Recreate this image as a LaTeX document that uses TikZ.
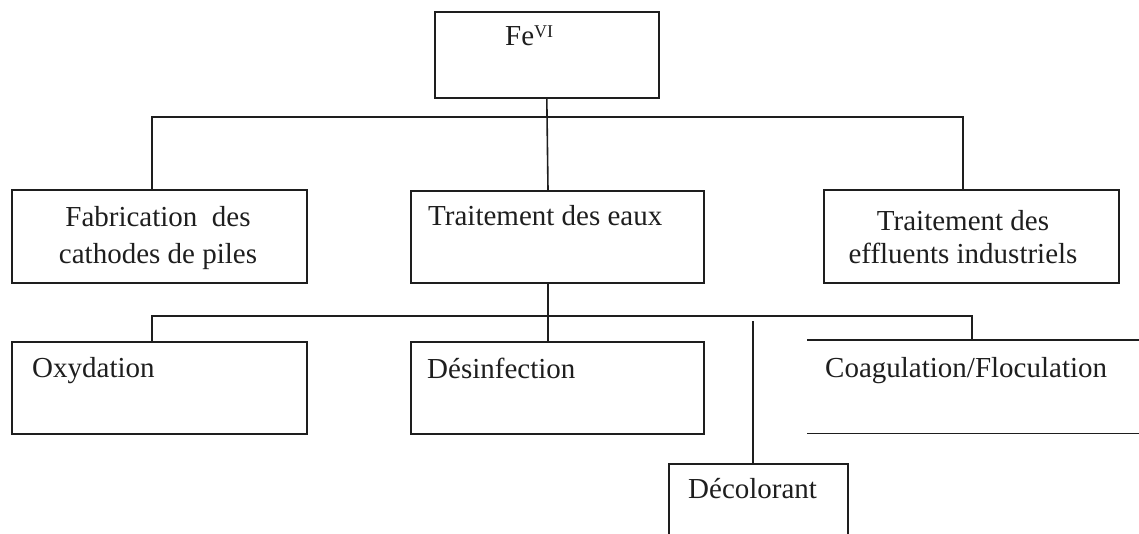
\documentclass[tikz,border=0pt]{standalone}
\usepackage{fontspec}
\setmainfont{Liberation Serif}
\usetikzlibrary{calc}
\definecolor{ink}{RGB}{30,30,30}
\begin{document}
\begin{tikzpicture}[x=1pt,y=-1pt,
  box/.style={draw=ink, line width=1.6pt, inner sep=0pt, anchor=north west},
  sz/.style 2 args={minimum width=#1pt, minimum height=#2pt},
  lbl/.style={inner sep=0pt, font=\fontsize{29}{37}\selectfont, text=ink},
  link/.style={draw=ink, line width=1.6pt},
]
\useasboundingbox (0,0) rectangle (1139,533);
\clip (0,0) rectangle (1139,533);

% boxes
\node[box, sz={224}{86}] (fe) at (434,11) {};
\node[box, sz={295}{93}] (fab) at (11,189) {};
\node[box, sz={293}{92}] (trait) at (410,190) {};
\node[box, sz={295}{93}] (eff) at (823,189) {};
\node[box, sz={295}{92}] (oxy) at (11,341) {};
\node[box, sz={293}{92}] (des) at (410,341) {};
\node[box, sz={179}{95}] (deco) at (668,463) {};
\node[anchor=north west, inner sep=0pt, sz={335}{93}] (coag) at (807,340) {};
\draw[link, line width=1.8pt] (coag.north west) -- (coag.north east);
\draw[link, line width=1.8pt] (coag.south west) -- (coag.south east);

% labels
\node[lbl, anchor=base west] (fet) at (505,45) {Fe\raisebox{8pt}{\fontsize{18}{18}\selectfont VI}};
\node[lbl, anchor=base, align=center] (fabt) at (158,263) {Fabrication\ \ des\\cathodes de piles};
\node[lbl, anchor=base west] (traitt) at (428,225) {Traitement des eaux};
\node[lbl, anchor=base, align=center] (efft) at (963,263) {Traitement des\\[-4pt]effluents industriels};
\node[lbl, anchor=base west] (oxyt) at (32,377) {Oxydation};
\node[lbl, anchor=base west] (dest) at (427,378) {Désinfection};
\node[lbl, anchor=base west] (decot) at (688,498) {Décolorant};
\node[lbl, anchor=base west] (coagt) at (825,377) {Coagulation/Floculation};

% connectors, upper level
\draw[link] (fe.south) -- ($(trait.north west)+(138,0)$);
\coordinate (hl) at (152,117);
\coordinate (hr) at (963,117);
\draw[link] (hl |- fab.north) -- (hl) -- (hr) -- (hr |- eff.north);

% connectors, lower level
\coordinate (sp) at ($(trait.south west)+(138,0)$);
\coordinate (ml) at (152,316);
\coordinate (mr) at (972,316);
\draw[link] (sp) -- (sp |- ml) -- (sp |- des.north);
\draw[link] (ml |- oxy.north) -- (ml) -- (mr) -- (mr |- coag.north);
\coordinate (dtop) at (753,321);
\draw[link] (dtop) -- (dtop |- deco.north);
\end{tikzpicture}
\end{document}
